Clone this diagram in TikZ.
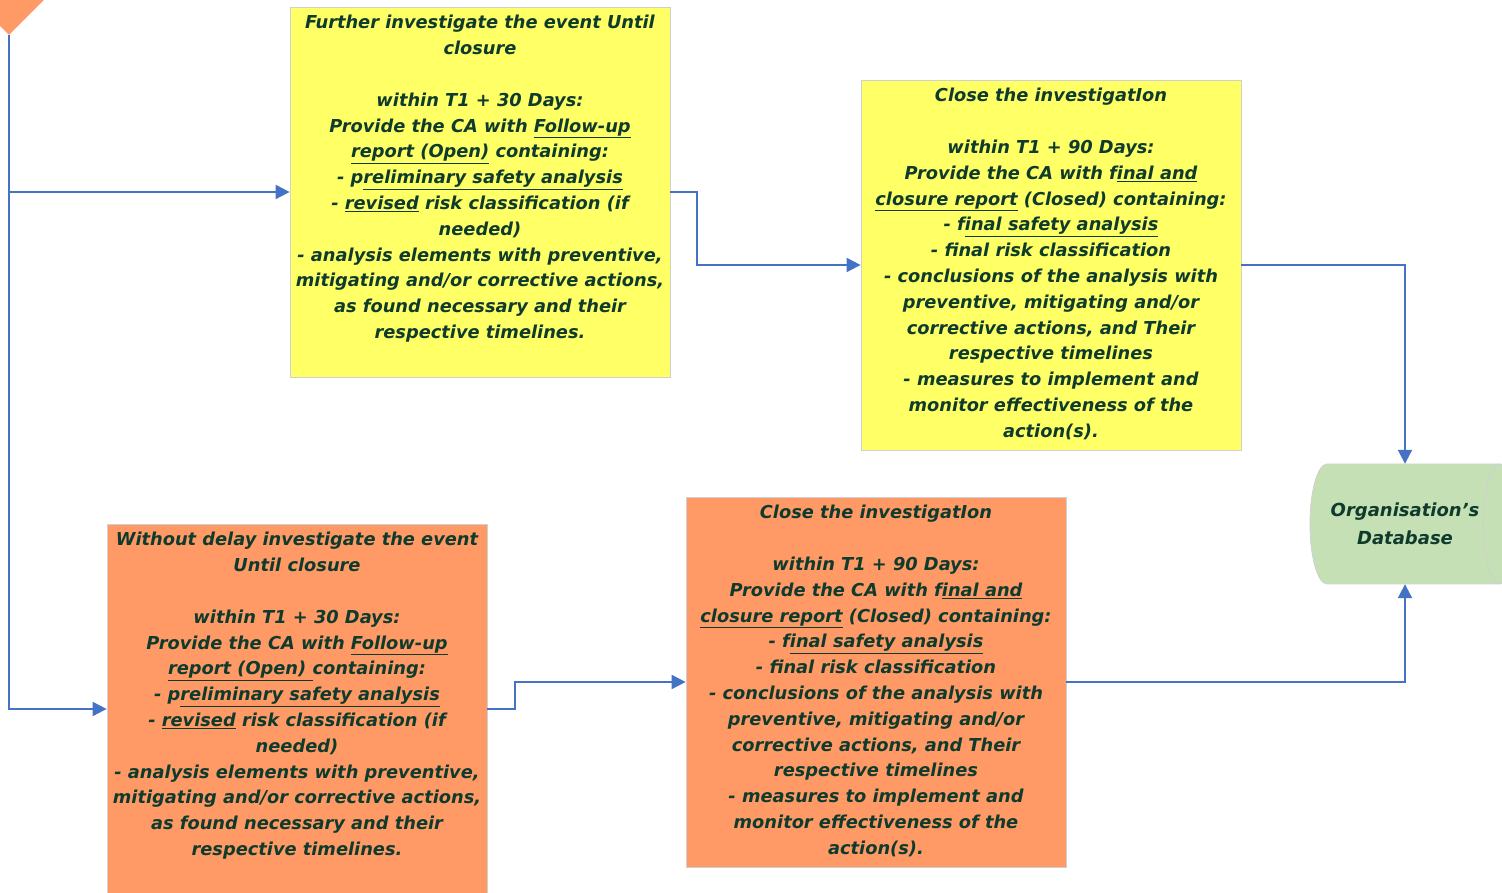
\documentclass[tikz,border=0pt]{standalone}
\usepackage{fontspec}
\setmainfont{DejaVu Sans}
\usetikzlibrary{shapes.geometric,arrows.meta}

\definecolor{inkgreen}{HTML}{0F3B2C}
\definecolor{flowblue}{HTML}{4472C4}
\definecolor{noteyellow}{HTML}{FFFF66}
\definecolor{noteorange}{HTML}{FF9966}
\definecolor{dbgreen}{HTML}{C5E0B4}
\definecolor{edgegray}{HTML}{D0D0D0}

\newcommand{\uln}[1]{\underline{#1}}
\newcommand{\notetext}[1]{\parbox[c][370pt][t]{377pt}{\centering
  \fontsize{17.8pt}{25.8pt}\selectfont\bfseries\itshape\rule{0pt}{22pt}#1}}

\tikzset{
  stepbox/.style={draw=edgegray, line width=0.8pt, inner sep=0pt,
    minimum width=380pt, minimum height=370pt, text=inkgreen},
  decision/.style={diamond, fill=noteorange, inner sep=0pt,
    minimum width=70pt, minimum height=70pt},
  flow/.style={draw=flowblue, line width=2pt,
    -{Triangle[length=14pt,width=14pt]}},
}

\begin{document}
\begin{tikzpicture}[x=1pt,y=1pt]
\useasboundingbox (0,0) rectangle (1502,893);

% decision corner
\node[decision] (split) at (9,893) {};

% yellow branch
\node[stepbox, fill=noteyellow] (further) at (480,701) {\notetext{%
Further investigate the event Until\\
closure\\[25.8pt]
within T1 + 30 Days:\\
Provide the CA with \uln{Follow-up}\\
\uln{report (Open)} containing:\\
- p\uln{reliminary safety analysis}\\
- \uln{revised} risk classification (if\\
needed)\\
- analysis elements with preventive,\\
mitigating and/or corrective actions,\\
as found necessary and their\\
respective timelines.}};

\node[stepbox, fill=noteyellow] (closeA) at (1051,628) {\notetext{%
Close the investigatIon\\[25.8pt]
within T1 + 90 Days:\\
Provide the CA with f\uln{inal and}\\
\uln{closure report} (Closed) containing:\\
- f\uln{inal safety analysis}\\
- final risk classification\\
- conclusions of the analysis with\\
preventive, mitigating and/or\\
corrective actions, and Their\\
respective timelines\\
- measures to implement and\\
monitor effectiveness of the\\
action(s).}};

% orange branch
\node[stepbox, fill=noteorange] (delay) at (297,184) {\notetext{%
Without delay investigate the event\\
Until closure\\[25.8pt]
within T1 + 30 Days:\\
Provide the CA with \uln{Follow-up}\\
\uln{report (Open) }containing:\\
- p\uln{reliminary safety analysis}\\
- \uln{revised} risk classification (if\\
needed)\\
- analysis elements with preventive,\\
mitigating and/or corrective actions,\\
as found necessary and their\\
respective timelines.}};

\node[stepbox, fill=noteorange] (closeB) at (876,211) {\notetext{%
Close the investigatIon\\[25.8pt]
within T1 + 90 Days:\\
Provide the CA with f\uln{inal and}\\
\uln{closure report} (Closed) containing:\\
- f\uln{inal safety analysis}\\
- final risk classification\\
- conclusions of the analysis with\\
preventive, mitigating and/or\\
corrective actions, and Their\\
respective timelines\\
- measures to implement and\\
monitor effectiveness of the\\
action(s).}};

% database drum
\filldraw[fill=dbgreen, draw=edgegray, line width=0.8pt]
  (1327,429) -- (1500,429) arc[start angle=90, end angle=-90, x radius=17, y radius=60]
  -- (1327,309) arc[start angle=270, end angle=90, x radius=17, y radius=60] -- cycle;
\draw[edgegray, line width=0.8pt]
  (1500,429) arc[start angle=90, end angle=270, x radius=17, y radius=60];
\node[minimum width=190pt, minimum height=120pt, align=center, text=inkgreen,
  font=\fontsize{18pt}{28pt}\selectfont\bfseries\itshape] (db) at (1405,369)
  {Organisation’s\\Database};

% connectors
\draw[flow] (split.south) |- (further.west);
\draw[flow] (split.south) |- (delay.west);
\draw[flow] (further.east) -- ++(27,0) |- (closeA.west);
\draw[flow] (closeA.east) -| (db.north);
\draw[flow] (delay.east) -- ++(28,0) |- (closeB.west);
\draw[flow] (closeB.east) -| (db.south);
\end{tikzpicture}
\end{document}
